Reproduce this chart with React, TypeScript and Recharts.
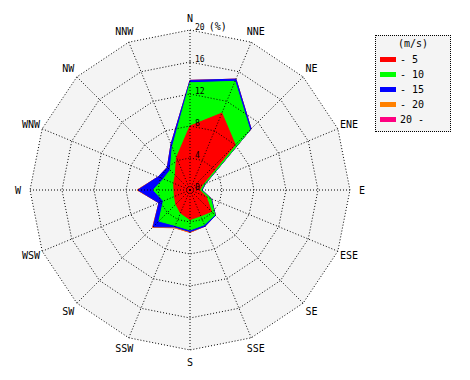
import React from 'react';
import { RadarChart, Radar, PolarGrid, PolarAngleAxis, PolarRadiusAxis } from 'recharts';

// wind directions, clockwise from north
const DIRECTIONS = ['N', 'NNE', 'NE', 'ENE', 'E', 'ESE', 'SE', 'SSE', 'S', 'SSW', 'SW', 'WSW', 'W', 'WNW', 'NW', 'NNW'];

// frequency (%) per speed class
const UP_TO_5 = [8.0, 10.4, 8.0, 1.7, 1.2, 2.2, 3.8, 3.5, 3.7, 3.1, 2.5, 2.1, 2.0, 2.2, 2.6, 4.4];
const UP_TO_10 = [5.4, 4.3, 2.6, 0.3, 0.2, 0.6, 0.6, 1.2, 1.3, 1.7, 3.0, 1.5, 2.6, 1.4, 0.9, 1.4];
const UP_TO_15 = [0.3, 0.3, 0.2, 0.1, 0.1, 0.1, 0.1, 0.2, 0.2, 0.2, 1.0, 0.6, 1.9, 0.7, 0.5, 0.4];
const UP_TO_20 = [0, 0, 0, 0, 0, 0, 0, 0, 0.1, 0.1, 0.1, 0, 0.1, 0, 0, 0];
const OVER_20 = [0, 0, 0, 0, 0, 0, 0, 0, 0, 0, 0, 0, 0, 0, 0, 0];

const SPEED_LABELS = ['- 5', '- 10', '- 15', '- 20', '20 -'];
const COLORS = ['#ff0000', '#00ff00', '#0000ff', '#ff8000', '#ff0080'];
const MAX_PCT = 20;

const CX = 190;
const CY = 190;
const OUTER = 160;
const FONT = '"DejaVu Sans Mono", monospace';

const classes = [UP_TO_5, UP_TO_10, UP_TO_15, UP_TO_20, OVER_20];

// stacked (cumulative) values so each ring sits on the previous one
const data = DIRECTIONS.map((dir, i) => {
  const row: any = { dir, bg: MAX_PCT };
  let sum = 0;
  classes.forEach((c, k) => {
    sum += c[i];
    row['c' + k] = +sum.toFixed(2);
  });
  return row;
});

const AngleTick = (props: any) => {
  const { payload } = props;
  const a = (payload.coordinate * Math.PI) / 180;
  const r = OUTER + 12;
  return (
    <text
      x={CX + r * Math.cos(a)}
      y={CY - r * Math.sin(a)}
      textAnchor="middle"
      dominantBaseline="central"
      fontFamily={FONT}
      fontSize={10}
      fill="#000"
    >
      {payload.value}
    </text>
  );
};

const RadiusTick = (props: any) => {
  const { x, y, payload } = props;
  return (
    <text x={x + 5} y={y} fontFamily={FONT} fontSize={8} fill="#000">
      {payload.value}
      {payload.value === MAX_PCT && (
        <tspan fontSize={10} dx={4}>
          (%)
        </tspan>
      )}
    </text>
  );
};

const WindLegend = () => (
  <div
    style={{
      position: 'absolute',
      left: 375,
      top: 35,
      width: 76,
      height: 97,
      boxSizing: 'border-box',
      border: '1px dotted #000',
      background: '#f4f4f4',
      fontFamily: FONT,
      fontSize: 10,
      color: '#000',
    }}
  >
    <div style={{ textAlign: 'center', lineHeight: '15px' }}>(m/s)</div>
    <div style={{ marginTop: 1 }}>
      {SPEED_LABELS.map((label, i) => (
        <div key={label} style={{ display: 'flex', alignItems: 'center', height: 15 }}>
          <span style={{ display: 'inline-block', width: 16, height: 5, marginLeft: 4, background: COLORS[i] }} />
          <span style={{ marginLeft: 4, whiteSpace: 'pre' }}>{label}</span>
        </div>
      ))}
    </div>
  </div>
);

const chartProps = {
  width: 470,
  height: 380,
  data,
  cx: CX,
  cy: CY,
  outerRadius: OUTER,
  margin: { top: 0, right: 0, bottom: 0, left: 0 },
};

export default function App() {
  return (
    <div style={{ position: 'absolute', left: 0, top: 0, width: 470, height: 380, background: '#fff' }}>
      {/* filled areas */}
      <div style={{ position: 'absolute', left: 0, top: 0 }}>
        <RadarChart {...chartProps}>
          <PolarAngleAxis dataKey="dir" tick={false} tickLine={false} axisLine={false} />
          <PolarRadiusAxis angle={90} domain={[0, MAX_PCT]} tickCount={6} axisLine={false} tick={false} />
          <Radar dataKey="bg" fill="#f4f4f4" fillOpacity={1} stroke="none" dot={false} isAnimationActive={false} />
          {[4, 3, 2, 1, 0].map((k) => (
            <Radar
              key={k}
              dataKey={'c' + k}
              fill={COLORS[k]}
              fillOpacity={1}
              stroke={COLORS[k]}
              strokeWidth={1}
              dot={false}
              isAnimationActive={false}
            />
          ))}
        </RadarChart>
      </div>
      {/* dotted grid and labels drawn over the areas */}
      <div style={{ position: 'absolute', left: 0, top: 0, pointerEvents: 'none' }}>
        <RadarChart {...chartProps}>
          <PolarGrid gridType="polygon" stroke="#000" strokeDasharray="1 2" />
          <PolarAngleAxis dataKey="dir" tick={<AngleTick />} tickLine={false} axisLine={false} />
          <PolarRadiusAxis angle={90} domain={[0, MAX_PCT]} tickCount={6} axisLine={false} tick={<RadiusTick />} />
          <Radar dataKey="bg" fill="none" stroke="none" dot={false} isAnimationActive={false} />
        </RadarChart>
      </div>
      <WindLegend />
    </div>
  );
}
